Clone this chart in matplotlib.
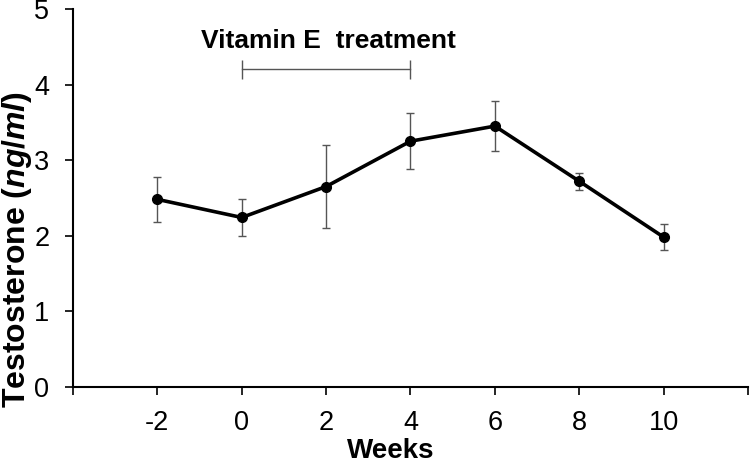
import matplotlib
matplotlib.use('Agg')
import matplotlib.pyplot as plt

# data
weeks = [-2, 0, 2, 4, 6, 8, 10]
testosterone = [2.48, 2.24, 2.65, 3.25, 3.45, 2.72, 1.98]
sem = [0.30, 0.25, 0.55, 0.37, 0.33, 0.11, 0.17]
treat_start, treat_end, treat_level = 0, 4, 4.2
xtick_pos = [-4, -2, 0, 2, 4, 6, 8, 10, 12]
xtick_lab = ['', '-2', '0', '2', '4', '6', '8', '10', '']

plt.rcParams['font.family'] = ['Liberation Sans', 'DejaVu Sans']
plt.rcParams['mathtext.fontset'] = 'custom'
plt.rcParams['mathtext.it'] = 'Liberation Sans:italic:bold'
plt.rcParams['mathtext.rm'] = 'Liberation Sans:bold'

fig = plt.figure(figsize=(7.51, 4.65), dpi=100)
ax = fig.add_axes([0.0972, 0.1684, 0.8988, 0.8122])

ax.errorbar(weeks, testosterone, yerr=sem, fmt='none', ecolor='#555555',
            elinewidth=1, capsize=3, capthick=1, zorder=2)
ax.plot(weeks, testosterone, color='black', lw=2.6, marker='o', ms=7, zorder=3)

# treatment bracket
ax.plot([treat_start, treat_end], [treat_level, treat_level], color='#555555', lw=1)
ax.vlines([treat_start, treat_end], treat_level - 0.12, treat_level + 0.12,
          color='#555555', lw=1)
ax.text((treat_start + treat_end) / 2 + 0.05, 4.58, 'Vitamin E  treatment',
        ha='center', va='center', fontsize=19, fontweight='bold')

ax.set_xlim(-4, 12)
ax.set_ylim(0, 5)
ax.set_xticks(xtick_pos)
ax.set_xticklabels(xtick_lab)
ax.set_yticks([0, 1, 2, 3, 4, 5])
ax.tick_params(axis='both', labelsize=19.5, direction='out', length=6, width=1.2)
ax.tick_params(axis='x', pad=11)
ax.tick_params(axis='y', pad=11)
ax.spines['top'].set_visible(False)
ax.spines['right'].set_visible(False)
ax.spines['left'].set_linewidth(1.5)
ax.spines['bottom'].set_linewidth(1.5)

ax.set_xlabel('Weeks', fontsize=20, fontweight='bold', va='center')
ax.xaxis.set_label_coords(0.47, -0.17)
ax.set_ylabel(r'Testosterone ($\mathit{ng}$/$\mathit{ml}$)', fontsize=23,
              fontweight='bold', va='center')
ax.yaxis.set_label_coords(-0.083, 0.362)

fig.savefig('out.png', dpi=100)
